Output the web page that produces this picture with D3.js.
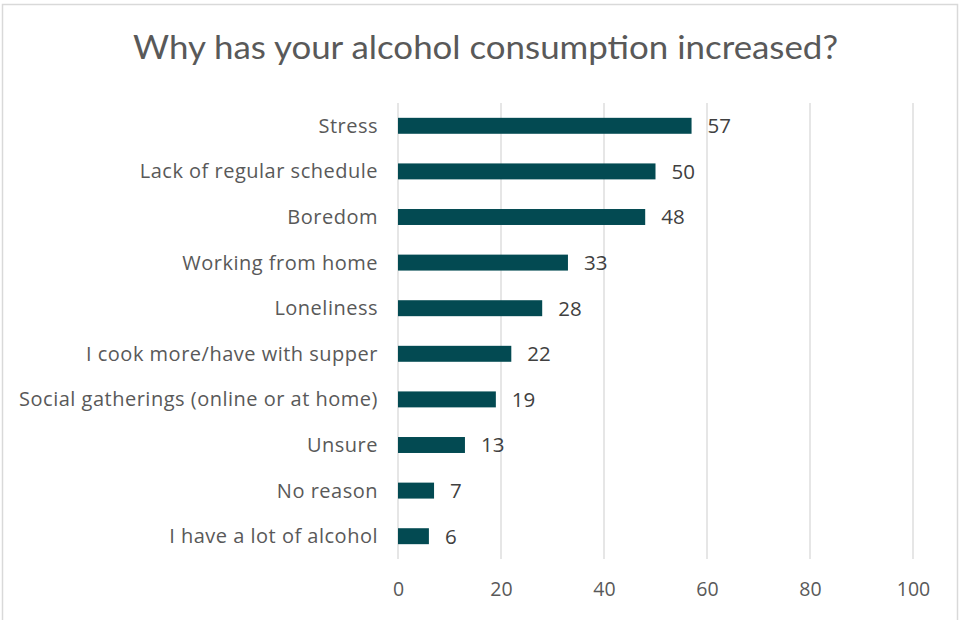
<!DOCTYPE html>
<html>
<head>
<meta charset="utf-8">
<script src="https://cdn.jsdelivr.net/npm/d3@7"></script>
<style>
  html, body { margin: 0; padding: 0; background: #ffffff; }
  svg { display: block; }
</style>
</head>
<body>
<svg id="chart" width="959" height="620"></svg>
<script>
// Reasons given, in display order (top to bottom)
const categories = [
  "Stress",
  "Lack of regular schedule",
  "Boredom",
  "Working from home",
  "Loneliness",
  "I cook more/have with supper",
  "Social gatherings (online or at home)",
  "Unsure",
  "No reason",
  "I have a lot of alcohol"
];
const values = [57, 50, 48, 33, 28, 22, 19, 13, 7, 6];
const xTicks = [0, 20, 40, 60, 80, 100];
const title = "Why has your alcohol consumption increased?";

const plot = { left: 398, right: 913, top: 103, bottom: 559 };

const svg = d3.select("#chart");

// Chart frame
svg.append("rect")
  .attr("x", 2.5).attr("y", 4.5)
  .attr("width", 955).attr("height", 620)
  .attr("fill", "#ffffff")
  .attr("stroke", "#d9d9d9")
  .attr("stroke-width", 1.5);

// Title
svg.append("text")
  .attr("x", (133 + 838) / 2)
  .attr("y", 59)
  .attr("text-anchor", "middle")
  .attr("font-family", "Lato, 'Open Sans', sans-serif")
  .attr("font-weight", 400)
  .attr("font-size", 32)
  .attr("fill", "#595959")
  .attr("textLength", 705)
  .attr("lengthAdjust", "spacingAndGlyphs")
  .text(title);

const x = d3.scaleLinear()
  .domain([0, 100])
  .range([plot.left, plot.right]);

const y = d3.scaleBand()
  .domain(categories)
  .range([plot.top, plot.bottom])
  .paddingInner(0.65)
  .paddingOuter(0.325);

// Vertical gridlines
svg.append("g")
  .selectAll("line")
  .data(xTicks)
  .join("line")
  .attr("x1", d => x(d)).attr("x2", d => x(d))
  .attr("y1", plot.top).attr("y2", plot.bottom)
  .attr("stroke", "#d9d9d9")
  .attr("stroke-width", 1.3);

// X axis tick labels
const xAxis = d3.axisBottom(x).tickValues(xTicks).tickSize(0).tickPadding(0);
const gx = svg.append("g")
  .attr("transform", `translate(0, ${plot.bottom + 37})`)
  .call(xAxis);
gx.select(".domain").remove();
gx.selectAll("text")
  .attr("dy", 0)
  .attr("font-family", "'Open Sans', sans-serif")
  .attr("font-size", 19.5)
  .attr("fill", "#595959");

// Category labels
const yAxis = d3.axisLeft(y).tickSize(0).tickPadding(0);
const gy = svg.append("g")
  .attr("transform", `translate(${plot.left - 20}, 0)`)
  .call(yAxis);
gy.select(".domain").remove();
gy.selectAll("text")
  .attr("dy", "0.35em")
  .attr("font-family", "'Open Sans', sans-serif")
  .attr("font-size", 20)
  .attr("letter-spacing", 0.5)
  .attr("fill", "#595959");

const data = categories.map((c, i) => ({ c, v: values[i] }));

// Bars
svg.append("g")
  .selectAll("rect")
  .data(data)
  .join("rect")
  .attr("x", x(0))
  .attr("y", d => y(d.c))
  .attr("width", d => x(d.v) - x(0))
  .attr("height", y.bandwidth())
  .attr("fill", "#034a52");

// Value labels
svg.append("g")
  .selectAll("text")
  .data(data)
  .join("text")
  .attr("x", d => x(d.v) + 16)
  .attr("y", d => y(d.c) + y.bandwidth() / 2)
  .attr("dy", "0.36em")
  .attr("font-family", "'Open Sans', sans-serif")
  .attr("font-size", 20.5)
  .attr("fill", "#404040")
  .text(d => d.v);
</script>
</body>
</html>
